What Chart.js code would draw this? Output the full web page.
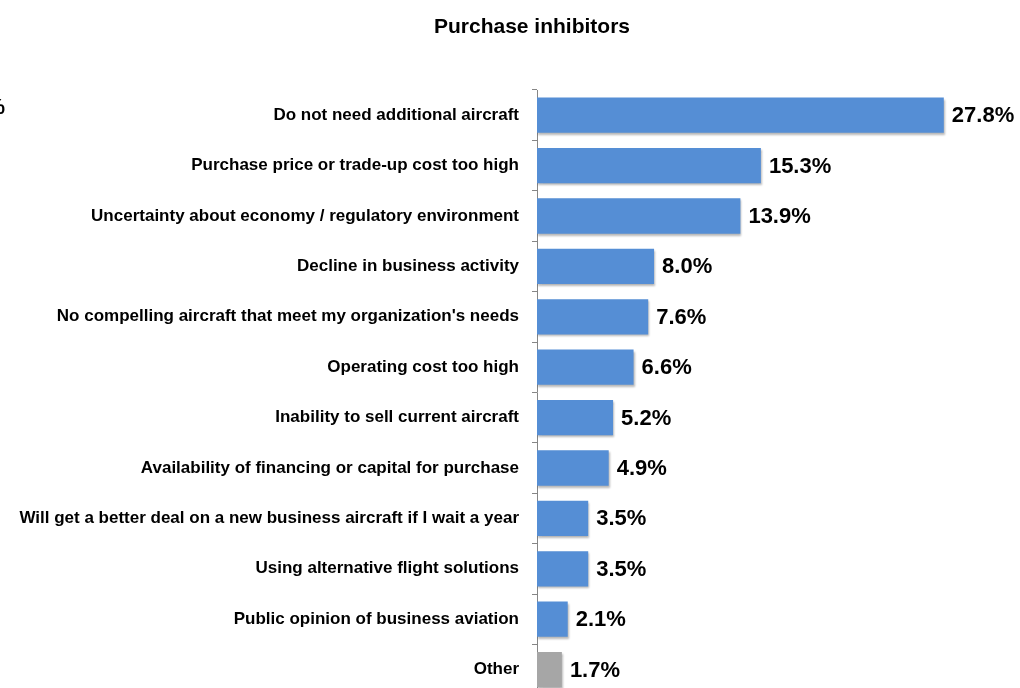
<!DOCTYPE html>
<html lang="en">
<head>
    <meta charset="UTF-8">
    <title>Purchase inhibitors</title>
    <script src="https://cdn.jsdelivr.net/npm/chart.js"></script>
    <style>
        html, body { margin: 0; padding: 0; background: #fff; overflow: hidden; }
    </style>
</head>
<body>
    <canvas id="inhibitChart" width="1020" height="718"></canvas>

    <script>
        // Data
        const categories = [
            'Do not need additional aircraft',
            'Purchase price or trade-up cost too high',
            'Uncertainty about economy / regulatory environment',
            'Decline in business activity',
            "No compelling aircraft that meet my organization's needs",
            'Operating cost too high',
            'Inability to sell current aircraft',
            'Availability of financing or capital for purchase',
            'Will get a better deal on a new business aircraft if I wait a year',
            'Using alternative flight solutions',
            'Public opinion of business aviation',
            'Other'
        ];
        const shares = [27.8, 15.3, 13.9, 8.0, 7.6, 6.6, 5.2, 4.9, 3.5, 3.5, 2.1, 1.7];
        const barColors = ['#558ED5', '#558ED5', '#558ED5', '#558ED5', '#558ED5', '#558ED5',
                           '#558ED5', '#558ED5', '#558ED5', '#558ED5', '#558ED5', '#A6A6A6'];
        const chartTitle = 'Purchase inhibitors';

        const FONT = "'Liberation Sans', Arial, sans-serif";

        // Soft shadow under the bars
        const barShadow = {
            id: 'barShadow',
            beforeDatasetsDraw(chart) {
                const ctx = chart.ctx;
                ctx.save();
                ctx.shadowColor = 'rgba(0,0,0,0.28)';
                ctx.shadowBlur = 2;
                ctx.shadowOffsetX = 1;
                ctx.shadowOffsetY = 2;
            },
            afterDatasetsDraw(chart) {
                chart.ctx.restore();
            }
        };

        // Title, value labels at the end of every bar, and the clipped "%" on the left edge
        const textLayer = {
            id: 'textLayer',
            afterDraw(chart) {
                const ctx = chart.ctx;
                const meta = chart.getDatasetMeta(0);
                ctx.save();
                ctx.fillStyle = '#000';
                ctx.textBaseline = 'middle';

                ctx.textAlign = 'center';
                ctx.font = 'bold 21px ' + FONT;
                ctx.fillText(chartTitle, 532, 27);

                ctx.font = 'bold 22px ' + FONT;
                ctx.textAlign = 'left';
                meta.data.forEach((bar, i) => {
                    ctx.fillText(shares[i].toFixed(1) + '%', bar.x + 8, bar.y + 1);
                });
                ctx.textAlign = 'right';
                ctx.fillText('%', 5, 108);
                ctx.restore();
            }
        };

        const ctx = document.getElementById('inhibitChart').getContext('2d');
        new Chart(ctx, {
            type: 'bar',
            data: {
                labels: categories,
                datasets: [{
                    data: shares,
                    backgroundColor: barColors,
                    borderWidth: 0,
                    barPercentage: 0.7,
                    categoryPercentage: 1.0
                }]
            },
            options: {
                indexAxis: 'y',
                responsive: false,
                animation: false,
                layout: { padding: { left: 0, right: 44, top: 90, bottom: 6 } },
                plugins: {
                    legend: { display: false },
                    tooltip: { enabled: false },
                    title: { display: false }
                },
                scales: {
                    x: {
                        display: false,
                        min: 0,
                        max: 30
                    },
                    y: {
                        afterFit(scale) { scale.width = 537; },
                        grid: {
                            offset: true,
                            drawOnChartArea: false,
                            tickLength: 5,
                            color: '#868686'
                        },
                        border: { color: '#868686', width: 1 },
                        ticks: {
                            color: '#000',
                            padding: 13,
                            font: { family: FONT, size: 17, weight: 'bold' }
                        }
                    }
                }
            },
            plugins: [barShadow, textLayer]
        });
    </script>
</body>
</html>
